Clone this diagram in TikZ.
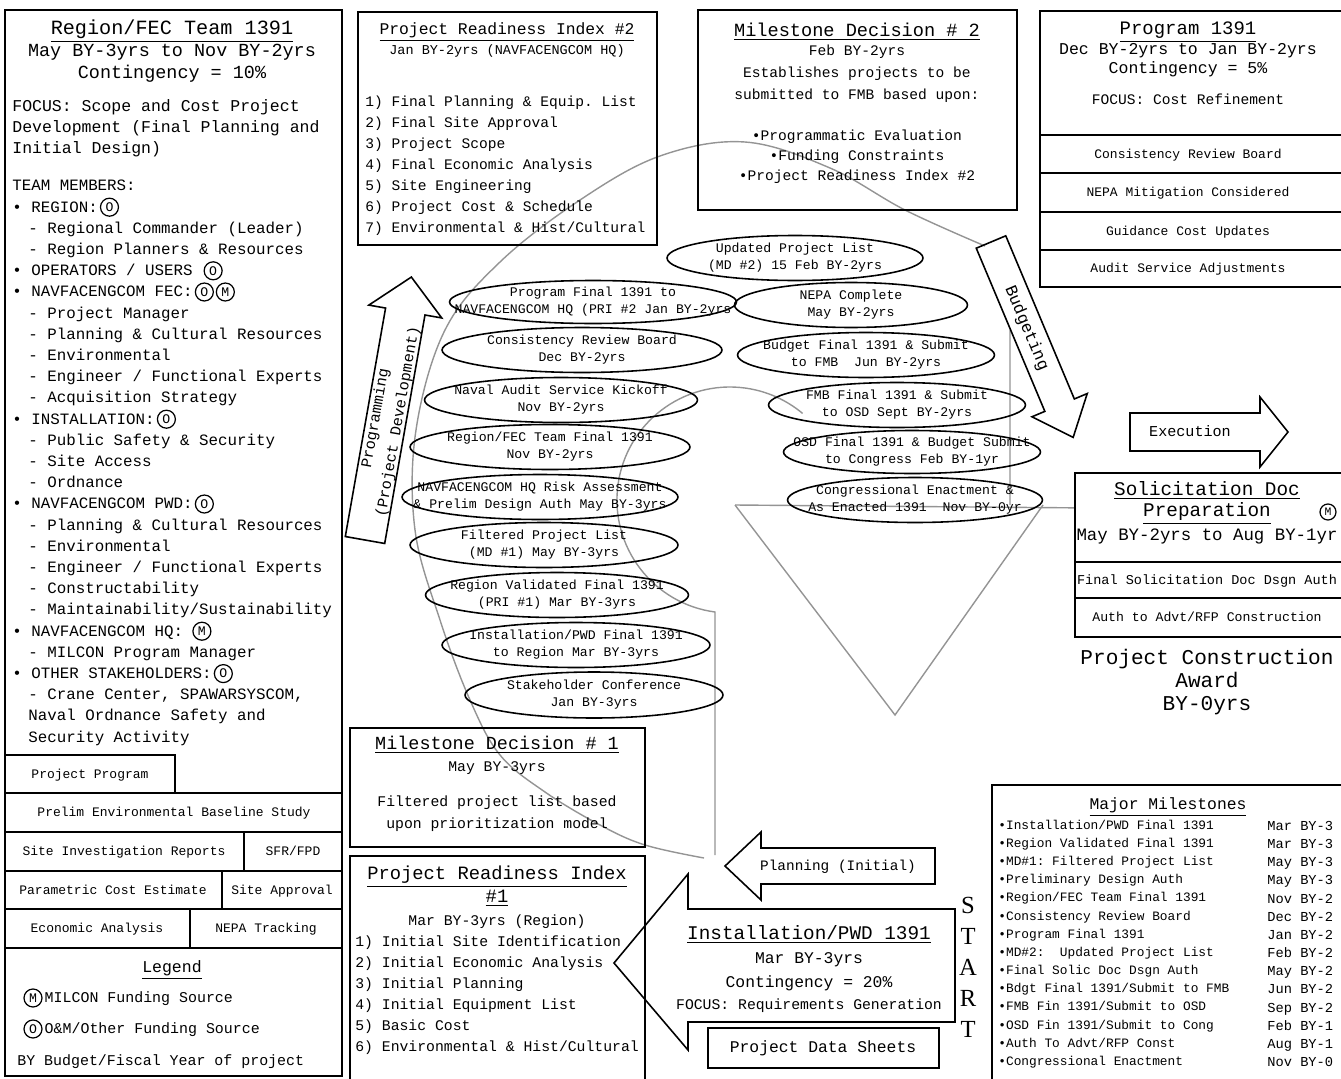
\documentclass[tikz,border=0pt]{standalone}
\usepackage{fontspec}
\setmainfont{Liberation Serif}
\setmonofont{Liberation Mono}
\usetikzlibrary{shapes.geometric,positioning}

\newcommand{\mtt}[2]{\fontsize{#1}{#2}\selectfont\ttfamily}

\tikzset{
  panel/.style={draw, line width=1pt},
  txt/.style={inner sep=0pt, text height=1.5ex, text depth=.3ex},
  teamline/.style={txt, anchor=west, font=\mtt{9}{12}},
  stage/.style={ellipse, draw, line width=0.9pt, inner xsep=-1.6cm, inner ysep=-0.2cm,
    align=center, font=\mtt{7.5}{9.6}},
  fund/.style={circle, draw, line width=0.7pt, inner sep=0pt, minimum size=0.36cm, font=\mtt{7.5}{8}},
  bigarrow/.style={draw, line width=0.9pt, line join=miter},
  cycleline/.style={draw=black!42, line width=0.8pt},
}

\begin{document}
\begin{tikzpicture}[x=0.02cm, y=-0.02cm]
\useasboundingbox (0,0) rectangle (1341,1078);

% background cycle
\draw[cycleline] plot[smooth, tension=0.6] coordinates {(704,858) (645,845) (600,825)
  (545,792) (500,755) (470,700) (440,620) (415,530) (416,430) (445,330) (500,262)
  (580,200) (660,156) (745,142) (830,168) (905,210) (985,246)};
\draw[cycleline] (715,855) -- (715,612) arc[start angle=97.6, end angle=310, radius=113];
\draw[cycleline] (1010,330) -- (1010,505) (735,505) -- (895,715) -- (1043,505);
\draw[cycleline, ->] (735,505) -- (1093,508);

% left column: team
\draw[panel] (5,10) rectangle (342,1076);
\node[txt, font=\mtt{11.5}{13}] (regt) at (172,30) {\underline{Region/FEC Team 1391}};
\node[txt, font=\mtt{10.5}{13}] (regd) at (172,52) {May BY-3yrs to Nov BY-2yrs};
\node[txt, font=\mtt{10.5}{13}] (regc) at (172,74) {Contingency = 10\%};
\node[inner sep=0pt, anchor=west, align=left, font=\mtt{9.4}{12}] (regf) at (12,128)
  {FOCUS: Scope and Cost Project\\Development (Final Planning and\\Initial Design)};

\foreach \x/\t [count=\i from 0] in {
  12/{TEAM MEMBERS:}, 12/{• REGION:},
  28/{- Regional Commander (Leader)}, 28/{- Region Planners \& Resources},
  12/{• OPERATORS / USERS}, 12/{• NAVFACENGCOM FEC:},
  28/{- Project Manager}, 28/{- Planning \& Cultural Resources},
  28/{- Environmental}, 28/{- Engineer / Functional Experts},
  28/{- Acquisition Strategy}, 12/{• INSTALLATION:},
  28/{- Public Safety \& Security}, 28/{- Site Access}, 28/{- Ordnance},
  12/{• NAVFACENGCOM PWD:}, 28/{- Planning \& Cultural Resources},
  28/{- Environmental}, 28/{- Engineer / Functional Experts},
  28/{- Constructability}, 28/{- Maintainability/Sustainability},
  12/{• NAVFACENGCOM HQ:}, 28/{- MILCON Program Manager},
  12/{• OTHER STAKEHOLDERS:}, 28/{- Crane Center, SPAWARSYSCOM,},
  28/{Naval Ordnance Safety and}, 28/{Security Activity}}
  \node[teamline] (t\i) at (\x,{186+21.2*\i}) {\t};

\node[fund, right=1pt of t1] (f1) {O};
\node[fund, right=6pt of t4] (f4) {O};
\node[fund, right=1pt of t5] (f5) {O};
\node[fund, right=1pt of f5] (f5m) {M};
\node[fund, right=1pt of t11] (f11) {O};
\node[fund, right=1pt of t15] (f15) {O};
\node[fund, right=5pt of t21] (f21) {M};
\node[fund, right=1pt of t23] (f23) {O};

% products
\draw[panel] (5,755) rectangle (175,793);
\draw[panel] (5,793) rectangle (342,832);
\draw[panel] (5,832) rectangle (244,871) (244,832) rectangle (342,871);
\draw[panel] (5,871) rectangle (222,909) (222,871) rectangle (342,909);
\draw[panel] (5,909) rectangle (190,948) (190,909) rectangle (342,948);
\node[txt, font=\mtt{7.4}{9}] (pp) at (90,774) {Project Program};
\node[txt, font=\mtt{7.4}{9}] (peb) at (174,812) {Prelim Environmental Baseline Study};
\node[txt, font=\mtt{7.4}{9}] (sir) at (124,851) {Site Investigation Reports};
\node[txt, font=\mtt{7.4}{9}] (sfr) at (293,851) {SFR/FPD};
\node[txt, font=\mtt{7.4}{9}] (pce) at (113,890) {Parametric Cost Estimate};
\node[txt, font=\mtt{7.4}{9}] (sap) at (282,890) {Site Approval};
\node[txt, font=\mtt{7.4}{9}] (eca) at (97,928) {Economic Analysis};
\node[txt, font=\mtt{7.4}{9}] (nt) at (266,928) {NEPA Tracking};

% legend
\node[txt, font=\mtt{9.4}{12}] (leg) at (172,968) {\underline{Legend}};
\node[fund] (lm) at (33,998) {M};
\node[txt, right=1pt of lm, font=\mtt{8.5}{10}] (lmt) {MILCON Funding Source};
\node[fund] (lo) at (33,1029) {O};
\node[txt, right=1pt of lo, font=\mtt{8.5}{10}] (lot) {O\&M/Other Funding Source};
\node[txt, anchor=west, font=\mtt{8.5}{10}] (lby) at (17,1061) {BY Budget/Fiscal Year of project};

% project readiness index 2
\draw[panel] (358,12) rectangle (657,245);
\node[txt, font=\mtt{9.3}{12}] (pri2) at (507,30) {\underline{Project Readiness Index \#2}};
\node[txt, font=\mtt{7.7}{10}] (pri2d) at (507,50) {Jan BY-2yrs (NAVFACENGCOM HQ)};
\node[anchor=west, inner sep=0pt, align=left, font=\mtt{8.3}{11.95}] (pri2l) at (365,165.5)
  {1) Final Planning \& Equip. List\\2) Final Site Approval\\3) Project Scope\\
   4) Final Economic Analysis\\5) Site Engineering\\6) Project Cost \& Schedule\\
   7) Environmental \& Hist/Cultural};

% milestone decision 2
\draw[panel] (698,10) rectangle (1017,210);
\node[txt, font=\mtt{10.6}{12}] (md2) at (857,32) {\underline{Milestone Decision \# 2}};
\node[inner sep=0pt, align=center, font=\mtt{8.3}{12.5}] (md2t) at (857,74)
  {Feb BY-2yrs\\Establishes projects to be\\submitted to FMB based upon:};
\node[inner sep=0pt, align=center, font=\mtt{8.3}{11.5}] (md2b) at (857,157)
  {•Programmatic Evaluation\\•Funding Constraints\\•Project Readiness Index \#2};

% program 1391
\draw[panel] (1040,11) rectangle (1345,287);
\draw[panel] (1040,135) -- (1345,135) (1040,173) -- (1345,173)
  (1040,212) -- (1345,212) (1040,250) -- (1345,250);
\node[txt, font=\mtt{10.8}{12}] (prg) at (1188,30) {\underline{Program 1391}};
\node[txt, font=\mtt{9.4}{12}] (prgd) at (1188,50) {Dec BY-2yrs to Jan BY-2yrs};
\node[txt, font=\mtt{9.4}{12}] (prgc) at (1188,69) {Contingency = 5\%};
\node[txt, font=\mtt{8.3}{12}] (prgf) at (1188,100) {FOCUS: Cost Refinement};
\node[txt, font=\mtt{7.4}{9}] (crb2) at (1188,154) {Consistency Review Board};
\node[txt, font=\mtt{7.4}{9}] (nmc) at (1188,192) {NEPA Mitigation Considered};
\node[txt, font=\mtt{7.4}{9}] (gcu) at (1188,231) {Guidance Cost Updates};
\node[txt, font=\mtt{7.4}{9}] (asa) at (1188,268) {Audit Service Adjustments};

% milestones of the cycle
\node[stage, minimum width=5.74cm, minimum height=0.86cm] (pfin) at (593,302)
  {Program Final 1391 to\\NAVFACENGCOM HQ (PRI \#2 Jan BY-2yrs};
\node[stage, minimum width=5.6cm, minimum height=0.9cm] (crb) at (582,350)
  {Consistency Review Board\\Dec BY-2yrs};
\node[stage, minimum width=5.46cm, minimum height=0.9cm] (nask) at (561,400)
  {Naval Audit Service Kickoff\\Nov BY-2yrs};
\node[stage, minimum width=5.6cm, minimum height=0.9cm] (rfec) at (550,447)
  {Region/FEC Team Final 1391\\Nov BY-2yrs};
\node[stage, minimum width=5.52cm, minimum height=0.9cm] (risk) at (540,497)
  {NAVFACENGCOM HQ Risk Assessment\\\& Prelim Design Auth May BY-3yrs};
\node[stage, minimum width=5.36cm, minimum height=0.9cm] (fpl) at (544,545)
  {Filtered Project List\\(MD \#1) May BY-3yrs};
\node[stage, minimum width=5.26cm, minimum height=0.9cm] (rval) at (557,595)
  {Region Validated Final 1391\\(PRI \#1) Mar BY-3yrs};
\node[stage, minimum width=5.36cm, minimum height=0.9cm] (ipwd) at (576,645)
  {Installation/PWD Final 1391\\to Region Mar BY-3yrs};
\node[stage, minimum width=5.16cm, minimum height=0.92cm] (stk) at (594,695)
  {Stakeholder Conference\\Jan BY-3yrs};
\node[stage, minimum width=5.12cm, minimum height=0.9cm] (upl) at (795,258)
  {Updated Project List\\(MD \#2) 15 Feb BY-2yrs};
\node[stage, minimum width=4.66cm, minimum height=0.9cm] (nepa) at (851,305)
  {NEPA Complete\\May BY-2yrs};
\node[stage, minimum width=5.14cm, minimum height=0.9cm] (bfin) at (866,355)
  {Budget Final 1391 \& Submit\\to FMB~~Jun BY-2yrs};
\node[stage, minimum width=5.14cm, minimum height=0.9cm] (fmb) at (897,405)
  {FMB Final 1391 \& Submit\\to OSD Sept BY-2yrs};
\node[stage, minimum width=5.14cm, minimum height=0.86cm] (osd) at (912,452)
  {OSD Final 1391 \& Budget Submit\\to Congress Feb BY-1yr};
\node[stage, minimum width=5.1cm, minimum height=0.9cm] (cong) at (915,500)
  {Congressional Enactment \&\\As Enacted 1391~~Nov BY-0yr};

% phase arrows
\begin{scope}[shift={(365,540)}, rotate=80]
  \draw[bigarrow] (0,-20) -- (232,-20) -- (232,-37) -- (267,0) -- (232,37) -- (232,20) -- (0,20) -- cycle;
\end{scope}
\node[inner sep=0pt, rotate=80, align=center, font=\mtt{8.7}{13}] (prog) at (387,420)
  {Programming\\(Project Development)};
\begin{scope}[shift={(991,242)}, rotate=-67.2]
  \draw[bigarrow] (0,-16) -- (177,-16) -- (177,-30) -- (212,0) -- (177,30) -- (177,16) -- (0,16) -- cycle;
\end{scope}
\node[txt, rotate=-67.2, font=\mtt{9.5}{11}] (budg) at (1027,328) {Budgeting};
\begin{scope}[shift={(1130,432)}]
  \draw[bigarrow] (0,-19) -- (130,-19) -- (130,-35) -- (158,0) -- (130,35) -- (130,19) -- (0,19) -- cycle;
\end{scope}
\node[txt, font=\mtt{8.6}{10}] (exec) at (1190,432) {Execution};
\begin{scope}[shift={(935,866)}, rotate=180]
  \draw[bigarrow] (0,-18) -- (174,-18) -- (174,-34) -- (210,0) -- (174,34) -- (174,18) -- (0,18) -- cycle;
\end{scope}
\node[txt, font=\mtt{8.2}{10}] (plan) at (838,866) {Planning (Initial)};

% solicitation
\draw[panel, fill=white] (1075,473) rectangle (1345,637);
\draw[panel] (1075,562) -- (1345,562) (1075,598) -- (1345,598);
\node[txt, font=\mtt{11}{12}] (sol1) at (1207,491) {\underline{Solicitation Doc}};
\node[txt, font=\mtt{11}{12}] (sol2) at (1207,512) {\underline{Preparation}};
\node[fund, minimum size=0.32cm, font=\mtt{6.5}{7}] (solm) at (1328,512) {M};
\node[txt, font=\mtt{9.9}{12}] (sold) at (1207,536) {May BY-2yrs to Aug BY-1yr};
\node[txt, font=\mtt{7.7}{9}] (fsd) at (1207,580) {Final Solicitation Doc Dsgn Auth};
\node[txt, font=\mtt{7.5}{9}] (atr) at (1207,617) {Auth to Advt/RFP Construction};
\node[inner sep=0pt, align=center, font=\mtt{12}{13.3}] (award) at (1207,682)
  {Project Construction\\Award\\BY-0yrs};

% milestone decision 1
\draw[panel] (350,728) rectangle (645,847);
\node[txt, font=\mtt{10.5}{12}] (md1) at (497,745) {\underline{Milestone Decision \# 1}};
\node[txt, font=\mtt{8.4}{10}] (md1d) at (497,767) {May BY-3yrs};
\node[inner sep=0pt, align=center, font=\mtt{8.4}{12.5}] (md1t) at (497,814)
  {Filtered project list based\\upon prioritization model};

% project readiness index 1
\draw[panel] (350,856) rectangle (645,1080);
\node[txt, font=\mtt{10.7}{12}] (pri1) at (497,875) {\underline{Project Readiness Index}};
\node[txt, font=\mtt{10.7}{12}] (pri1n) at (497,898) {\underline{\#1}};
\node[txt, font=\mtt{8.4}{10}] (pri1d) at (497,921) {Mar BY-3yrs (Region)};
\node[anchor=west, inner sep=0pt, align=left, font=\mtt{8.4}{11.95}] (pri1l) at (355,995.5)
  {1) Initial Site Identification\\2) Initial Economic Analysis\\3) Initial Planning\\
   4) Initial Equipment List\\5) Basic Cost\\6) Environmental \& Hist/Cultural};

% installation 1391 with its head
\draw[bigarrow] (955,909) -- (688,909) -- (688,874) -- (614,963) -- (688,1050)
  -- (688,1022) -- (955,1022) -- cycle;
\node[txt, font=\mtt{11}{12}] (inst) at (809,935) {\underline{Installation/PWD 1391}};
\node[txt, font=\mtt{9.3}{12}] (instd) at (809,959) {Mar BY-3yrs};
\node[txt, font=\mtt{9.3}{12}] (instc) at (809,983) {Contingency = 20\%};
\node[txt, font=\mtt{8.4}{10}] (instf) at (809,1005) {FOCUS: Requirements Generation};
\draw[panel] (708,1028) rectangle (939,1068);
\node[txt, font=\mtt{9.3}{11}] (pds) at (823,1048) {Project Data Sheets};
\foreach \l [count=\i from 0] in {S,T,A,R,T}
  \node[inner sep=0pt, font=\fontsize{14}{16}\selectfont\rmfamily] (st\i) at (968,{905+31*\i}) {\l};

% major milestones
\draw[panel] (992,785) rectangle (1345,1080);
\node[txt, font=\mtt{9.3}{11}] (mm) at (1168,805) {\underline{Major Milestones}};
\node[anchor=west, inner sep=0pt, align=left, font=\mtt{7.3}{10.35}] (mml) at (998,944)
  {•Installation/PWD Final 1391\\•Region Validated Final 1391\\•MD\#1: Filtered Project List\\
   •Preliminary Design Auth\\•Region/FEC Team Final 1391\\•Consistency Review Board\\
   •Program Final 1391\\•MD\#2:~~Updated Project List\\•Final Solic Doc Dsgn Auth\\
   •Bdgt Final 1391/Submit to FMB\\•FMB Fin 1391/Submit to OSD\\•OSD Fin 1391/Submit to Cong\\
   •Auth To Advt/RFP Const\\•Congressional Enactment};
\node[anchor=west, inner sep=0pt, align=left, font=\mtt{7.8}{10.35}] (mmd) at (1267,944)
  {Mar BY-3\\Mar BY-3\\May BY-3\\May BY-3\\Nov BY-2\\Dec BY-2\\Jan BY-2\\
   Feb BY-2\\May BY-2\\Jun BY-2\\Sep BY-2\\Feb BY-1\\Aug BY-1\\Nov BY-0};
\end{tikzpicture}
\end{document}
